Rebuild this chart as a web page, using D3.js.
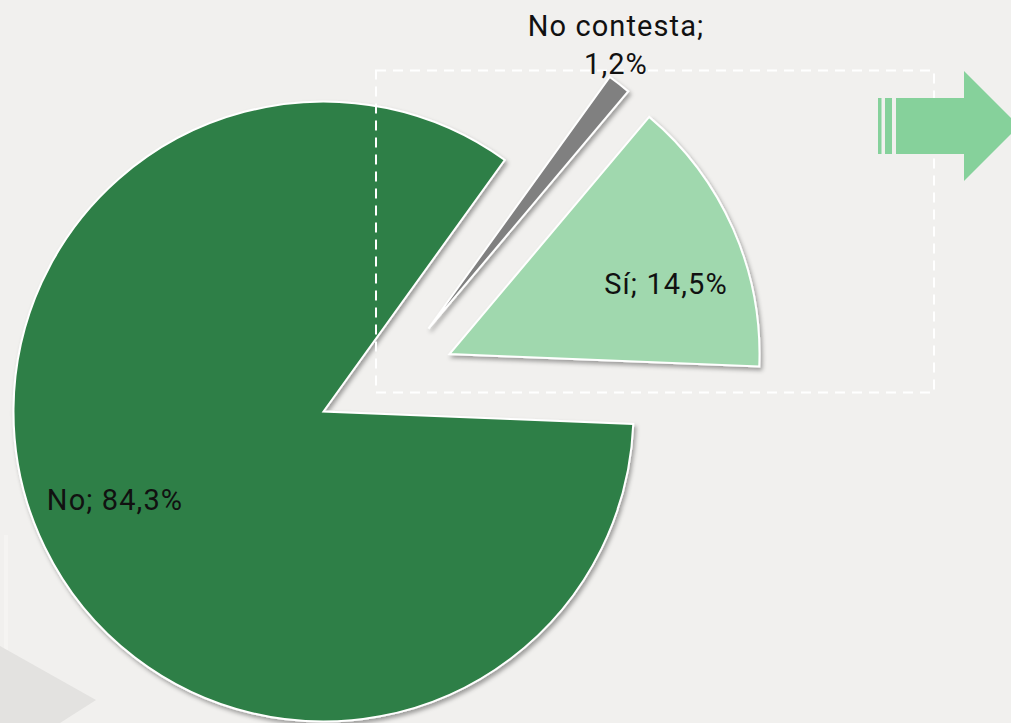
<!DOCTYPE html>
<html>
<head>
<meta charset="utf-8">
<script src="https://cdn.jsdelivr.net/npm/d3@7"></script>
<style>
  html, body { margin: 0; padding: 0; background: #f1f0ee; }
  svg { display: block; }
  text { font-family: Roboto, "DejaVu Sans Condensed", sans-serif; fill: #111; }
</style>
</head>
<body>
<svg id="chart" width="1011" height="723"></svg>
<script>
// ---- data ----
const categories = ["Sí", "No", "No contesta"];
const values = [14.5, 84.3, 1.2];
const valueLabels = ["Sí; 14,5%", "No; 84,3%", ["No contesta;", "1,2%"]];
const colors = ["#a0d8ae", "#2f7f46", "#808080"];

// ---- layout ----
const W = 1011, H = 723;
const cx = 323.5, cy = 411.5, R = 310;
const startDeg = 40.1;
const explode = { "Sí": [126, -57.5], "No": [0, 0], "No contesta": [105, -83] };
const labelPos = { "Sí": [666, 294], "No": [115, 510], "No contesta": [616, 36] };

const svg = d3.select("#chart");

// background
svg.append("rect").attr("width", W).attr("height", H).attr("fill", "#f1f0ee");
svg.append("rect").attr("x", 4).attr("y", 535).attr("width", 4).attr("height", 190).attr("fill", "#f5f4f2");
svg.append("path").attr("d", "M0,646 L96,700 L60,723 L0,723 Z").attr("fill", "#e3e2e0");

// drop shadow filter
const defs = svg.append("defs");
const f = defs.append("filter").attr("id", "sh").attr("x", "-20%").attr("y", "-20%").attr("width", "140%").attr("height", "140%");
f.append("feDropShadow").attr("dx", 2).attr("dy", 3).attr("stdDeviation", 2.2)
  .attr("flood-color", "#000").attr("flood-opacity", 0.35);

const data = categories.map((c, i) => ({ cat: c, value: values[i], color: colors[i], label: valueLabels[i] }));
const start = startDeg * Math.PI / 180;
const pie = d3.pie().value(d => d.value).sort(null).startAngle(start).endAngle(start + 2 * Math.PI);
const arcs = pie(data);
const arc = d3.arc().innerRadius(0).outerRadius(R);

const g = svg.append("g").attr("transform", `translate(${cx},${cy})`);
g.selectAll("path.slice").data(arcs).join("path")
  .attr("class", "slice")
  .attr("transform", d => `translate(${explode[d.data.cat][0]},${explode[d.data.cat][1]})`)
  .attr("d", arc)
  .attr("fill", d => d.data.color)
  .attr("stroke", "#ffffff")
  .attr("stroke-width", 2)
  .attr("stroke-linejoin", "miter")
  .attr("filter", "url(#sh)");

// dashed rectangle
svg.append("rect").attr("x", 376).attr("y", 70.5).attr("width", 558).attr("height", 322)
  .attr("fill", "none").attr("stroke", "#ffffff").attr("stroke-width", 2)
  .attr("stroke-dasharray", "10,7");

// arrow
const arrowColor = "#86d19b";
svg.append("rect").attr("x", 878).attr("y", 98).attr("width", 3.5).attr("height", 56).attr("fill", arrowColor);
svg.append("rect").attr("x", 885).attr("y", 98).attr("width", 7).attr("height", 56).attr("fill", arrowColor);
svg.append("path").attr("d", "M896,98 L964,98 L964,71 L1019,126 L964,181 L964,154 L896,154 Z").attr("fill", arrowColor);

// labels
const lab = svg.append("g");
data.forEach(d => {
  const p = labelPos[d.cat];
  const t = lab.append("text").attr("x", p[0]).attr("y", p[1]).attr("text-anchor", "middle")
    .attr("font-size", 29).attr("letter-spacing", "1.1px");
  if (Array.isArray(d.label)) {
    d.label.forEach((line, i) => {
      t.append("tspan").attr("x", p[0]).attr("dy", i === 0 ? 0 : 38).text(line);
    });
  } else {
    t.text(d.label);
  }
});
</script>
</body>
</html>
